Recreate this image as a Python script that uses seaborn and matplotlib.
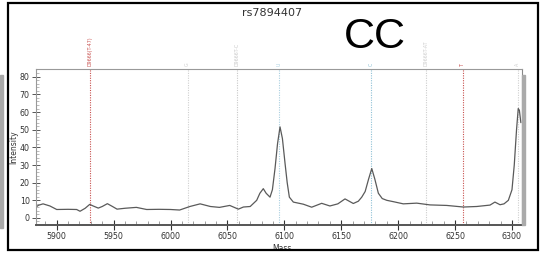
import numpy as np
import pandas as pd
import matplotlib
matplotlib.use("Agg")
import matplotlib.pyplot as plt
import matplotlib.patches as patches
import seaborn as sns

W, H = 543, 254

# spectrum (mass, intensity)
mass = [5881.8, 5884, 5888, 5894, 5900, 5910, 5917.5, 5920.5, 5925, 5929, 5932,
        5936.5, 5940, 5944.5, 5949, 5953, 5960, 5970, 5979, 5990, 6000, 6008,
        6017, 6026, 6035, 6043, 6052, 6059.6, 6064, 6070, 6075.7, 6078.5, 6081.5,
        6084, 6087.4, 6089.5, 6091.8, 6094, 6096.2, 6098.3, 6100.6, 6102.5, 6104.4,
        6107.9, 6116.7, 6124, 6132.8, 6140, 6147, 6153.3, 6160.6, 6165, 6168, 6171,
        6174, 6176.8, 6179.5, 6182.6, 6186, 6190, 6196, 6204.5, 6216.3, 6228,
        6242.7, 6257.3, 6269, 6280.7, 6285, 6289.5, 6293, 6296.8, 6300, 6302,
        6304, 6305.5, 6306.5, 6307.8]
intensity = [6.2, 7.2, 8.0, 6.8, 4.8, 4.9, 4.8, 3.8, 5.5, 7.7, 6.8,
             5.6, 6.5, 8.1, 6.5, 5.0, 5.5, 6.0, 4.8, 4.9, 4.8, 4.5,
             6.5, 8.0, 6.5, 6.0, 7.1, 5.0, 6.2, 6.5, 10.0, 14.0, 16.6,
             14.0, 11.8, 16.0, 28.0, 42.0, 51.6, 45.0, 31.0, 20.0, 11.8,
             9.0, 7.8, 6.1, 8.3, 6.8, 8.0, 10.8, 8.2, 9.5, 11.8, 15.0,
             22.0, 28.0, 22.0, 14.0, 11.0, 10.0, 9.2, 8.0, 8.4, 7.4,
             7.1, 6.2, 6.5, 7.3, 9.0, 7.5, 8.0, 10.0, 16.0, 30.0,
             50.0, 62.0, 61.0, 54.0]

# marker lines above the plot
marker_mass = [5929.5, 6015, 6058, 6095.6, 6176.2, 6224.8, 6256.8, 6305.1]
marker_text = ["D9666(T-47)", "G", "D9666T-C", "U", "C", "D9666T-AT", "T", "A"]
marker_color = ["#c8504e", "#cfcfcf", "#c8c8c8", "#a9cfe0", "#8fc1d6",
                "#cccccc", "#c8504e", "#cfcfcf"]

xticks = [5900, 5950, 6000, 6050, 6100, 6150, 6200, 6250, 6300]
yticks = [0, 10, 20, 30, 40, 50, 60, 70, 80]

sns.set_theme(style="white")
plt.rcParams["font.family"] = ["DejaVu Sans"]

fig = plt.figure(figsize=(W / 100, H / 100), dpi=100)
fig.patch.set_facecolor("white")

ax = fig.add_axes([36 / W, 29.5 / H, 486 / W, 155.5 / H])
df = pd.DataFrame({"Mass": mass, "Intensity": intensity})
sns.lineplot(data=df, x="Mass", y="Intensity", ax=ax, color="#5a5a5a",
             linewidth=0.9, sort=False)

for m, t, c in zip(marker_mass, marker_text, marker_color):
    ax.axvline(m, color=c, linestyle=(0, (1, 1.2)), linewidth=0.8, zorder=0)
    ax.text(m, 1.02, t, transform=ax.get_xaxis_transform(), rotation=90,
            fontsize=3.4, color=c, ha="center", va="bottom", clip_on=False)

ax.set_xlim(5881.8, 6308.8)
ax.set_ylim(-3.7, 84.4)
ax.set_xticks(xticks)
ax.set_yticks(yticks)
ax.set_xticks(np.arange(5890, 6310, 10), minor=True)
ax.set_yticks(np.arange(-2, 84, 2), minor=True)
ax.tick_params(axis="x", which="major", direction="inout", length=6.5,
               width=0.8, color="#333333", labelsize=5.7, labelcolor="#333333",
               pad=2, bottom=True)
ax.tick_params(axis="x", which="minor", direction="in", length=3,
               width=0.5, color="#777777", bottom=True)
ax.tick_params(axis="y", which="major", direction="inout", length=6,
               width=0.7, color="#555555", labelsize=5.7, labelcolor="#333333",
               pad=1.5, left=True)
ax.tick_params(axis="y", which="minor", direction="in", length=2,
               width=0.4, color="#888888", left=True)

ax.set_xlabel("Mass", fontsize=5.5, color="#333333", labelpad=1)
ax.set_ylabel("Intensity", fontsize=5.5, color="#333333", labelpad=1)
ax.xaxis.set_label_coords(0.506, -0.125)

for side in ["top", "left"]:
    ax.spines[side].set_color("#999999")
    ax.spines[side].set_linewidth(0.8)
ax.spines["bottom"].set_color("#555555")
ax.spines["bottom"].set_linewidth(1.4)
ax.spines["right"].set_color("#888888")
ax.spines["right"].set_linewidth(0.8)

# shadow on the right edge of the plot box
fig.patches.append(patches.Rectangle((522 / W, 29.5 / H), 3 / W, 150 / H,
                                     transform=fig.transFigure, color="#aaaaaa",
                                     zorder=3))
# grey strip on the far left
fig.patches.append(patches.Rectangle((0, 26 / H), 2.5 / W, 153 / H,
                                     transform=fig.transFigure, color="#a8a8a8"))
# outer black frame
fig.patches.append(patches.Rectangle((8 / W, 4 / H), 530 / W, 247 / H,
                                     transform=fig.transFigure, fill=False,
                                     edgecolor="black", linewidth=1.6))

fig.text(272 / W, 1 - 13 / H, "rs7894407", fontsize=8, color="#333333",
         ha="center", va="center")
fig.text(375 / W, 1 - 37 / H, "CC", fontsize=31, color="black",
         family=["Liberation Sans", "DejaVu Sans"], ha="center", va="center")

fig.savefig("out.png", dpi=100)
